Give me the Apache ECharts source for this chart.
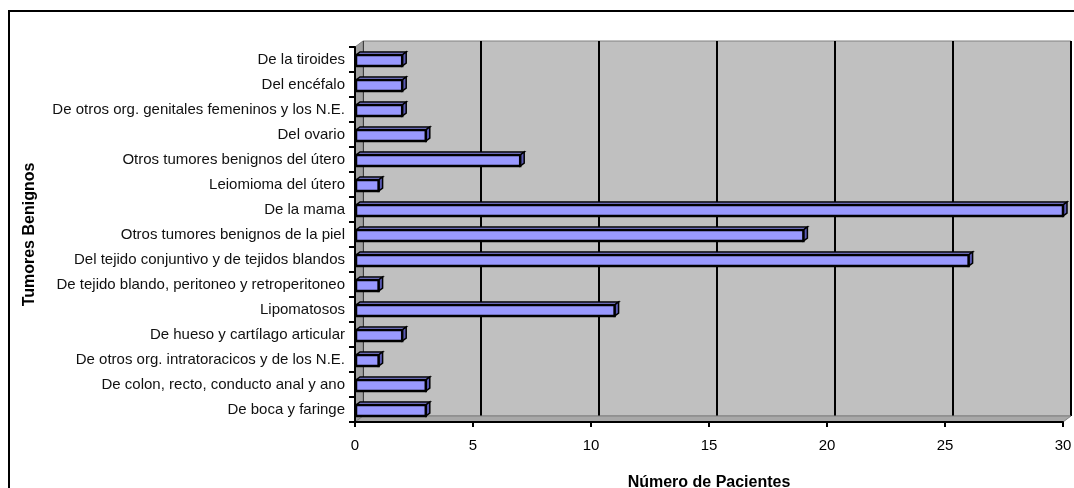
<!DOCTYPE html>
<html><head><meta charset="utf-8">
<script src="https://cdn.jsdelivr.net/npm/echarts@6/dist/echarts.min.js"></script>
<style>html,body{margin:0;padding:0;background:#fff}#c{width:1074px;height:488px}</style>
</head><body><div id="c"></div>
<script>
const categories = ["De boca y faringe","De colon, recto, conducto anal y ano","De otros org. intratoracicos y de los N.E.","De hueso y cartílago articular","Lipomatosos","De tejido blando, peritoneo y retroperitoneo","Del tejido conjuntivo y de tejidos blandos","Otros tumores benignos de la piel","De la mama","Leiomioma del útero","Otros tumores benignos del útero","Del ovario","De otros org. genitales femeninos y los N.E.","Del encéfalo","De la tiroides"];
const values = [3,3,1,2,11,1,26,19,30,1,7,3,2,2,2];
const xTicks = [0,5,10,15,20,25,30];

const FONT = 'Liberation Sans, Arial, sans-serif';
const chart = echarts.init(document.getElementById('c'), null, {renderer:'canvas'});
const DX = 8, DY = -6;
const L = 355, T = 47, W = 708, H = 375;

chart.setOption({
  animation:false,
  graphic:[
    {type:'rect', shape:{x:9,y:11,width:1080,height:500}, style:{fill:'none', stroke:'#000', lineWidth:2}, z:0},
    {type:'polygon', shape:{points:[[L,T],[L+DX,T+DY],[L+DX,T+H+DY],[L,T+H]]}, style:{fill:'#a0a0a0', stroke:'#808080', lineWidth:1}, z:1},
    {type:'polygon', shape:{points:[[L,T+H],[L+DX,T+H+DY],[L+W+DX,T+H+DY],[L+W,T+H]]}, style:{fill:'#a8a8a8', stroke:'#808080', lineWidth:1}, z:1}
  ],
  grid:[
    {left:L, top:T, width:W, height:H, show:false, containLabel:false, outerBoundsMode:'none'},
    {left:L+DX, top:T+DY, width:W, height:H, show:true, backgroundColor:'#c0c0c0', borderColor:'#808080', borderWidth:1, z:0, containLabel:false, outerBoundsMode:'none'}
  ],
  xAxis:[
    {gridIndex:0, type:'value', min:xTicks[0], max:xTicks[xTicks.length-1], interval:5,
     name:'Número de Pacientes', nameLocation:'middle', nameGap:53,
     nameTextStyle:{fontFamily:FONT, fontSize:16, fontWeight:'bold', color:'#000'},
     axisLine:{show:true, lineStyle:{color:'#000', width:2}},
     axisTick:{show:true, length:5, lineStyle:{color:'#000', width:2}},
     axisLabel:{fontFamily:FONT, fontSize:15, color:'#000', margin:16},
     splitLine:{show:false}, z:5},
    {gridIndex:1, type:'value', min:xTicks[0], max:xTicks[xTicks.length-1], interval:5,
     axisLine:{show:false}, axisTick:{show:false}, axisLabel:{show:false},
     splitLine:{show:true, lineStyle:{color:'#000', width:2}}}
  ],
  yAxis:[
    {gridIndex:0, type:'category', data:categories,
     name:'Tumores Benignos', nameLocation:'middle', nameGap:317, nameRotate:90,
     nameTextStyle:{fontFamily:FONT, fontSize:16, fontWeight:'bold', color:'#000'},
     axisLine:{show:true, lineStyle:{color:'#000', width:2}},
     axisTick:{show:true, length:6, lineStyle:{color:'#000', width:2}},
     axisLabel:{fontFamily:FONT, fontSize:15, color:'#111', margin:10},
     z:5},
    {gridIndex:1, type:'category', data:categories, show:false}
  ],
  series:[{
    type:'custom', xAxisIndex:0, yAxisIndex:0, z:10,
    data: values.map((v,i)=>[v,i]),
    renderItem:function(params, api){
      const p0 = api.coord([0, api.value(1)]);
      const p1 = api.coord([api.value(0), api.value(1)]);
      const h = 11, dx = 4, dy = -3;
      const y0 = p0[1]-h/2+1, x0 = p0[0]+1, x1 = p1[0];
      return {type:'group', children:[
        {type:'polygon', shape:{points:[[x0,y0],[x0+dx,y0+dy],[x1+dx,y0+dy],[x1,y0]]}, style:{fill:'#8c8cf0', stroke:'#000', lineWidth:1.5}},
        {type:'polygon', shape:{points:[[x1,y0],[x1+dx,y0+dy],[x1+dx,y0+h+dy],[x1,y0+h]]}, style:{fill:'#5a5ab4', stroke:'#000', lineWidth:1.5}},
        {type:'rect', shape:{x:x0, y:y0, width:x1-x0, height:h}, style:{fill:'#9999ff', stroke:'#000', lineWidth:2.5}}
      ]};
    }
  }]
});
</script></body></html>
